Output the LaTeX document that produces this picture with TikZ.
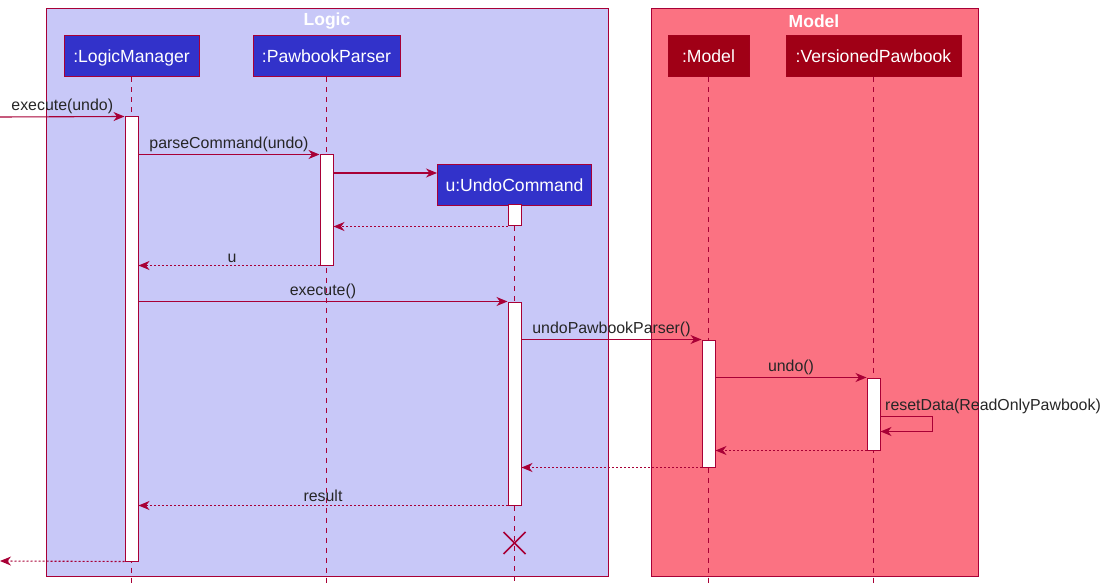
\documentclass[tikz,border=0pt]{standalone}
\usepackage{fontspec}
\setmainfont{Liberation Sans}
\usetikzlibrary{arrows.meta}
\definecolor{crim}{HTML}{A80036}
\definecolor{logicbg}{HTML}{C8C8F8}
\definecolor{modelbg}{HTML}{FB7282}
\definecolor{logicpart}{HTML}{3232CA}
\definecolor{modelpart}{HTML}{A00016}
\begin{document}
\begin{tikzpicture}[x=1pt,y=-1pt,
  frame/.style={draw=crim,line width=0.9pt},
  ftitle/.style={text=white,font=\fontsize{17.5}{20}\selectfont\bfseries},
  part/.style={draw=crim,line width=1pt,text=white,minimum height=41pt,inner sep=0pt,text height=14pt,text depth=1.5pt,font=\fontsize{17.6}{20}\selectfont},
  lpart/.style={part,fill=logicpart},
  mpart/.style={part,fill=modelpart,draw=modelpart!80!crim},
  lifeline/.style={draw=crim,line width=1pt,dash pattern=on 5pt off 5pt},
  actbar/.style={draw=crim,fill=white,line width=1pt,minimum width=13pt,inner sep=0pt},
  msg/.style={draw=crim,line width=1.1pt,-{Stealth[length=11pt,width=9pt,inset=3.5pt]}},
  ret/.style={msg,dash pattern=on 2pt off 2pt},
  lbl/.style={font=\fontsize{15.9}{18}\selectfont,inner sep=2.5pt,text=black!85}
]
\useasboundingbox (0,0) rectangle (1110,585);
% frames
\draw[frame,fill=logicbg] (46,8) rectangle (608,576);
\draw[frame,fill=modelbg] (651,8) rectangle (978,576);
\node[ftitle] (tlogic) at (327,21) {Logic};
\node[ftitle] (tmodel) at (814,21) {Model};
% participants
\node[lpart,minimum width=135pt] (lm) at (131.5,56.5) {:LogicManager};
\node[lpart,minimum width=147pt] (pp) at (326.5,56.5) {:PawbookParser};
\node[lpart,minimum width=154pt] (uc) at (514.5,185) {u:UndoCommand};
\node[mpart,minimum width=81pt] (md) at (708.5,56.5) {:Model};
\node[mpart,minimum width=175pt] (vp) at (873.5,56.5) {:VersionedPawbook};
% lifeline ends
\coordinate (lmE) at (131.5,585);
\coordinate (ppE) at (326.5,585);
\coordinate (ucE) at (514.5,585);
\coordinate (mdE) at (708.5,585);
\coordinate (vpE) at (873.5,585);
\draw[lifeline] (lm.south) -- (lmE);
\draw[lifeline] (pp.south) -- (ppE);
\draw[lifeline] (uc.south) -- (ucE);
\draw[lifeline] (md.south) -- (mdE);
\draw[lifeline] (vp.south) -- (vpE);
% activation bars
\node[actbar,minimum height=444pt] (lmA) at (131.5,339) {};
\node[actbar,minimum height=110pt] (ppA) at (326.5,210) {};
\node[actbar,minimum height=21pt] (ucA1) at (514.5,215.5) {};
\node[actbar,minimum height=203pt] (ucA2) at (514.5,403.5) {};
\node[actbar,minimum height=127pt] (mA) at (708.5,403.5) {};
\node[actbar,minimum height=72pt] (vpA) at (873.5,414) {};
% free ends
\coordinate (in) at (0,117);
\coordinate (out) at (0,561);
\coordinate (cr) at (437,173);
% messages
\draw[msg] (in) -- node[lbl,above] {execute(undo)} (lmA.north west);
\draw[msg] (lmA.east |- ppA.north) -- node[lbl,above] {parseCommand(undo)} (ppA.north west);
\draw[msg] (ppA.east |- cr) -- (cr);
\draw[ret] (ucA1.south west) -- (ppA.east |- ucA1.south);
\draw[ret] (ppA.south west) -- node[lbl,above,xshift=3pt] {u} (lmA.east |- ppA.south);
\draw[msg] (lmA.east |- ucA2.north) -- node[lbl,above] {execute()} (ucA2.north west);
\draw[msg] (ucA2.east |- mA.north) -- node[lbl,above] {undoPawbookParser()} (mA.north west);
\draw[msg] (mA.east |- vpA.north) -- node[lbl,above] {undo()} (vpA.north west);
\draw[msg] ([yshift=-39pt]vpA.north east) -- ++(52,0) -- ++(0,15) -- ++(-52,0);
\node[lbl,anchor=south west,inner sep=0pt] (selflbl) at (885,414) {resetData(ReadOnlyPawbook)};
\draw[ret] (vpA.south west) -- (mA.east |- vpA.south);
\draw[ret] (mA.south west) -- (ucA2.east |- mA.south);
\draw[ret] (ucA2.south west) -- node[lbl,above,yshift=1pt] {result} (lmA.east |- ucA2.south);
\draw[ret] (lmA.south west) -- (out);
% destroy
\coordinate (xx) at (514.5,543);
\draw[crim,line width=1.6pt] ([xshift=-11pt,yshift=11pt]xx) -- ([xshift=11pt,yshift=-11pt]xx);
\draw[crim,line width=1.6pt] ([xshift=-11pt,yshift=-11pt]xx) -- ([xshift=11pt,yshift=11pt]xx);
\end{tikzpicture}
\end{document}
